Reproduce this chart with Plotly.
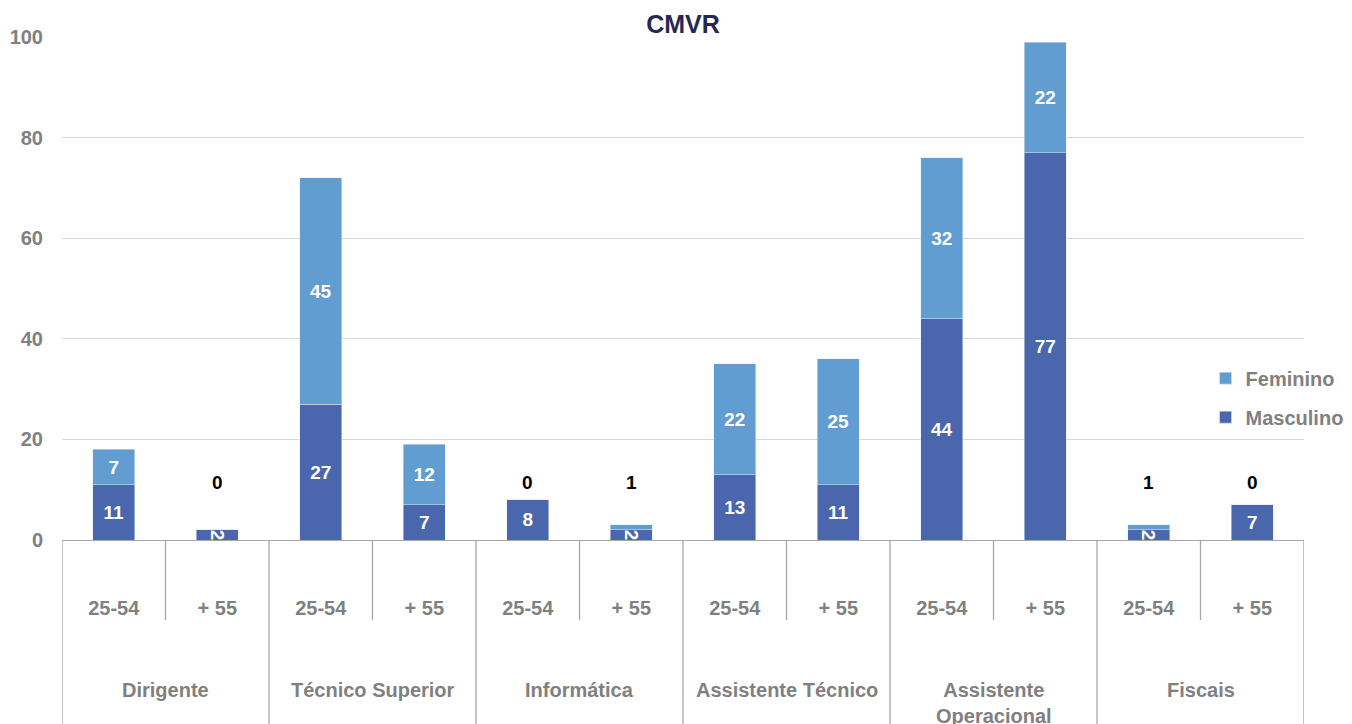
import plotly.graph_objects as go

groups = ["Dirigente", "Técnico Superior", "Informática", "Assistente Técnico",
          "Assistente<br>Operacional", "Fiscais"]
ages = ["25-54", "+ 55"]
masculino = [11, 2, 27, 7, 8, 2, 13, 11, 44, 77, 2, 7]
feminino = [7, 0, 45, 12, 0, 1, 22, 25, 32, 22, 1, 0]

C_MASC = "#4A66AC"
C_FEM = "#629DD1"
GREY = "#808080"
LINE = "#A6A6A6"
FONT = "Liberation Sans, Arial, sans-serif"

W, H = 1352, 724
ML, MR, MT, MB = 54, 55, 29, 192
plot_h = H - MT - MB

n = len(masculino)
x = list(range(n))
ticktext = [ages[i % 2] for i in range(n)]

fig = go.Figure()
fig.add_trace(go.Bar(
    x=x, y=masculino, name="Masculino", marker_color=C_MASC, width=0.41,
    text=[str(v) for v in masculino], textposition="inside",
    insidetextanchor="middle", constraintext="none",
    textfont=dict(family=FONT, size=19, color="white", weight="bold"),
    legendgroup="m", legendrank=2, cliponaxis=False,
))
fig.add_trace(go.Bar(
    x=x, y=feminino, name="Feminino", marker_color=C_FEM, width=0.41,
    text=[str(v) if v > 1 else "" for v in feminino], textposition="inside",
    insidetextanchor="middle", constraintext="none",
    textfont=dict(family=FONT, size=19, color="white", weight="bold"),
    legendgroup="f", legendrank=1, cliponaxis=False,
))

annotations = []
# small feminine values shown above the bar in black
for i, v in enumerate(feminino):
    if v <= 1:
        annotations.append(dict(
            x=i, y=11.5, xref="x", yref="y", text=str(v), showarrow=False,
            font=dict(family=FONT, size=19, color="black", weight="bold"),
            yanchor="middle"))

for g, name in enumerate(groups):
    annotations.append(dict(
        x=2 * g + 0.5, y=-137 / plot_h, xref="x", yref="paper",
        text=name, showarrow=False, yanchor="top",
        font=dict(family=FONT, size=20, color=GREY, weight="bold")))

shapes = []
for b in range(n + 1):
    xb = b - 0.5
    depth = 200 if b % 2 == 0 else 80
    shapes.append(dict(type="line", xref="x", yref="paper", x0=xb, x1=xb,
                       y0=0, y1=-depth / plot_h,
                       line=dict(color=LINE, width=1.3)))

fig.update_layout(
    width=W, height=H,
    margin=dict(l=ML, r=MR, t=MT, b=MB),
    paper_bgcolor="white", plot_bgcolor="white",
    barmode="stack", bargap=0.5,
    title=dict(text="CMVR", x=0.5, xref="paper", y=1 - 16 / H, yanchor="middle",
               font=dict(family=FONT, size=25, color="#242852", weight="bold")),
    legend=dict(x=0.92, y=0.283, xanchor="left", yanchor="middle",
                traceorder="grouped", tracegroupgap=10,
                font=dict(family=FONT, size=20, color=GREY, weight="bold"),
                bgcolor="rgba(0,0,0,0)"),
    xaxis=dict(range=[-0.5, n - 0.5], tickvals=x, ticktext=ticktext, ticks="",
               showgrid=False, zeroline=False, showline=True, linecolor=LINE,
               linewidth=1.3, ticklabelstandoff=50, automargin=False,
               tickfont=dict(family=FONT, size=20, color=GREY, weight="bold")),
    yaxis=dict(range=[0, 100], dtick=20, showgrid=True, gridcolor="#D9D9D9",
               gridwidth=1, zeroline=False, showline=False, ticks="",
               ticklabelstandoff=18, automargin=False,
               tickfont=dict(family=FONT, size=20, color=GREY, weight="bold")),
    annotations=annotations, shapes=shapes,
)

fig.write_html("out.html")
